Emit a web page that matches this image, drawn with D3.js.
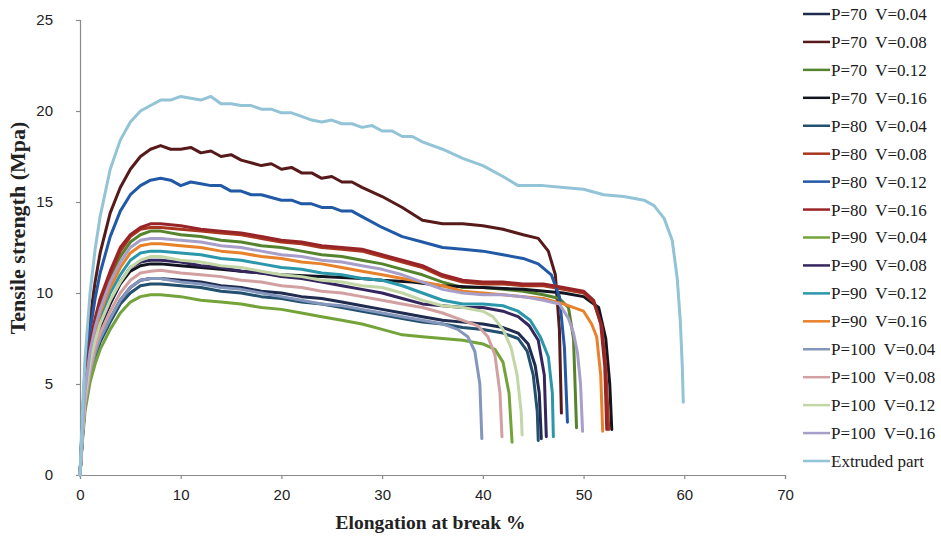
<!DOCTYPE html>
<html><head><meta charset="utf-8">
<script src="https://cdn.jsdelivr.net/npm/d3@7"></script>
<style>
html,body{margin:0;padding:0;background:#fff;}
svg{display:block;}
</style></head>
<body>
<svg id="chart" width="941" height="537"></svg>
<script>
// ---------------- data ----------------
const xTicks = [0,10,20,30,40,50,60,70];
const yTicks = [0,5,10,15,20,25];
const seriesNames = ["P=70  V=0.04","P=70  V=0.08","P=70  V=0.12","P=70  V=0.16",
  "P=80  V=0.04","P=80  V=0.08","P=80  V=0.12","P=80  V=0.16",
  "P=90  V=0.04","P=90  V=0.08","P=90  V=0.12","P=90  V=0.16",
  "P=100  V=0.04","P=100  V=0.08","P=100  V=0.12","P=100  V=0.16","Extruded part"];

const p70v004 = [[0,0],[0.25,2.2],[0.5,3.9],[1,5.6],[1.5,6.7],[2,7.5],[3,8.6],[4,9.6],[5,10.3],[6,10.7],[7,10.8],[8,10.8],[10,10.7],[12,10.6],[14,10.4],[16,10.3],[18,10.1],[20,10.0],[22,9.8],[24,9.7],[26,9.5],[28,9.3],[30,9.1],[32,8.9],[34,8.7],[36,8.5],[38,8.4],[40,8.3],[42,8.1],[43.5,7.8],[44.5,7.2],[45.2,6.0],[45.6,4.5],[45.8,2.0]];
const p70v008 = [[0,0],[0.25,3.2],[0.5,5.8],[1,8.6],[1.5,10.6],[2,12.2],[3,14.4],[4,15.8],[5,16.8],[6,17.5],[7,17.9],[8,18.1],[9,17.9],[10,17.9],[11,18.0],[12,17.7],[13,17.8],[14,17.5],[15,17.6],[16,17.3],[18,17.0],[19,17.1],[20,16.8],[21,16.9],[22,16.6],[23,16.6],[24,16.3],[25,16.4],[26,16.1],[27,16.1],[28,15.8],[30,15.3],[32,14.7],[34,14.0],[36,13.8],[38,13.8],[40,13.7],[42,13.5],[44,13.2],[45.5,13.0],[46.5,12.3],[47.2,11],[47.6,8],[47.8,3.4]];
const p70v012 = [[0,0],[0.25,2.6],[0.5,4.7],[1,7.0],[1.5,8.4],[2,9.4],[3,10.9],[4,12.0],[5,12.8],[6,13.2],[7,13.4],[8,13.4],[10,13.2],[12,13.1],[14,12.9],[16,12.8],[18,12.6],[20,12.5],[22,12.3],[24,12.1],[26,12.0],[28,11.8],[30,11.6],[32,11.3],[34,11.0],[36,10.6],[38,10.3],[40,10.3],[42,10.2],[44,10.1],[46,9.9],[47.6,9.7],[48.5,9.2],[49,7.5],[49.3,2.6]];
const p70v016 = [[0,0],[0.25,2.3],[0.5,4.2],[1,6.0],[1.5,7.2],[2,8.1],[3,9.4],[4,10.5],[5,11.2],[6,11.5],[7,11.6],[8,11.6],[10,11.5],[12,11.4],[14,11.3],[16,11.2],[18,11.1],[20,11.0],[24,10.9],[28,10.8],[30,10.7],[33,10.6],[36,10.4],[40,10.3],[44,10.2],[48,10.0],[50,9.8],[51.5,9.2],[52.2,7.5],[52.6,5],[52.8,2.5]];
const p80v004 = [[0,0],[0.25,2.1],[0.5,3.8],[1,5.5],[1.5,6.5],[2,7.3],[3,8.4],[4,9.4],[5,10.0],[6,10.4],[7,10.5],[8,10.5],[10,10.4],[12,10.3],[14,10.1],[16,10.0],[18,9.8],[20,9.7],[22,9.5],[24,9.4],[26,9.2],[28,9.0],[30,8.8],[32,8.6],[34,8.4],[36,8.3],[38,8.1],[40,8.0],[42,7.8],[43.5,7.5],[44.4,6.8],[45,5.5],[45.4,3.5],[45.5,1.9]];
const p80v008 = [[0,0],[0.25,2.6],[0.5,4.8],[1,7.1],[1.5,8.5],[2,9.5],[3,11.0],[4,12.3],[5,13.1],[6,13.5],[7,13.6],[8,13.6],[10,13.5],[12,13.4],[14,13.3],[16,13.2],[18,13.0],[20,12.8],[22,12.7],[24,12.5],[26,12.4],[28,12.3],[30,12.0],[32,11.7],[34,11.4],[36,10.9],[38,10.6],[40,10.5],[42,10.5],[44,10.4],[46,10.4],[48,10.2],[50,10.0],[51,9.5],[51.8,8.2],[52.2,6],[52.5,2.5]];
const p80v012 = [[0,0],[0.25,3.0],[0.5,5.3],[1,7.9],[1.5,9.7],[2,11.1],[3,13.1],[4,14.5],[5,15.4],[6,15.9],[7,16.2],[8,16.3],[9,16.2],[10,15.9],[11,16.1],[12,16.0],[13,15.9],[14,15.9],[15,15.6],[16,15.6],[17,15.4],[18,15.4],[20,15.1],[21,15.1],[22,14.9],[23,14.9],[24,14.7],[25,14.7],[26,14.5],[27,14.5],[28,14.2],[30,13.6],[32,13.1],[34,12.8],[36,12.5],[38,12.4],[40,12.3],[42,12.1],[44,11.9],[45.5,11.6],[46.8,11],[47.6,9.8],[48.1,7],[48.4,2.9]];
const p80v016 = [[0,0],[0.25,2.7],[0.5,4.9],[1,7.2],[1.5,8.6],[2,9.7],[3,11.2],[4,12.5],[5,13.2],[6,13.6],[7,13.8],[8,13.8],[10,13.7],[12,13.5],[14,13.4],[16,13.3],[18,13.1],[20,12.9],[22,12.8],[24,12.6],[26,12.5],[28,12.4],[30,12.1],[32,11.8],[34,11.5],[36,11.0],[38,10.7],[40,10.6],[42,10.6],[44,10.5],[46,10.5],[48,10.3],[50,10.1],[51,9.6],[51.7,8.3],[52.1,6],[52.3,2.5]];
const p90v004 = [[0,0],[0.25,1.9],[0.5,3.5],[1,5.1],[1.5,6.1],[2,6.9],[3,8.0],[4,8.9],[5,9.5],[6,9.8],[7,9.9],[8,9.9],[10,9.8],[12,9.6],[14,9.5],[16,9.4],[18,9.2],[20,9.1],[22,8.9],[24,8.7],[26,8.5],[28,8.3],[30,8.0],[32,7.7],[34,7.6],[36,7.5],[38,7.4],[40,7.2],[41.2,6.9],[42,6.2],[42.6,4.5],[42.9,1.8]];
const p90v008 = [[0,0],[0.25,2.3],[0.5,4.2],[1,6.1],[1.5,7.3],[2,8.2],[3,9.5],[4,10.6],[5,11.4],[6,11.7],[7,11.8],[8,11.8],[10,11.7],[12,11.5],[14,11.4],[16,11.2],[18,11.1],[20,10.9],[22,10.8],[24,10.6],[26,10.4],[28,10.2],[30,10.0],[32,9.7],[34,9.4],[36,9.3],[38,9.2],[40,9.2],[42,9.0],[43.5,8.7],[44.6,8.2],[45.5,7.4],[46.1,5.5],[46.3,2.1]];
const p90v012 = [[0,0],[0.25,2.4],[0.5,4.4],[1,6.4],[1.5,7.6],[2,8.6],[3,10.0],[4,11.0],[5,11.8],[6,12.2],[7,12.3],[8,12.3],[10,12.2],[12,12.1],[14,11.9],[16,11.8],[18,11.6],[20,11.4],[22,11.3],[24,11.1],[26,11.0],[28,10.8],[30,10.7],[32,10.4],[34,10.0],[36,9.6],[38,9.4],[40,9.4],[42,9.3],[43.5,9.0],[44.7,8.5],[45.7,7.6],[46.5,6.5],[46.9,4.5],[47.0,2.1]];
const p90v016 = [[0,0],[0.25,2.5],[0.5,4.5],[1,6.6],[1.5,7.9],[2,8.9],[3,10.3],[4,11.4],[5,12.2],[6,12.6],[7,12.7],[8,12.7],[10,12.6],[12,12.5],[14,12.3],[16,12.2],[18,12.0],[20,11.9],[22,11.7],[24,11.6],[26,11.4],[28,11.2],[30,11.0],[32,10.8],[34,10.6],[36,10.4],[38,10.1],[40,10.0],[42,9.9],[44,9.8],[46,9.7],[48,9.4],[50,9.0],[50.8,8.3],[51.3,7.6],[51.7,5.5],[51.9,2.4]];
const p100v004 = [[0,0],[0.25,2.2],[0.5,3.9],[1,5.6],[1.5,6.7],[2,7.5],[3,8.6],[4,9.6],[5,10.3],[6,10.7],[7,10.8],[8,10.8],[10,10.6],[12,10.5],[14,10.3],[16,10.2],[18,10.0],[20,9.8],[22,9.6],[24,9.4],[26,9.3],[28,9.1],[30,8.9],[32,8.7],[34,8.5],[36,8.3],[37.5,8.0],[38.5,7.6],[39.2,6.8],[39.7,5.0],[39.9,2.0]];
const p100v008 = [[0,0],[0.25,2.2],[0.5,4.0],[1,5.8],[1.5,7.0],[2,7.8],[3,9.0],[4,10.0],[5,10.7],[6,11.1],[7,11.2],[8,11.25],[10,11.1],[12,11.0],[14,10.9],[16,10.7],[18,10.6],[20,10.4],[22,10.3],[24,10.1],[26,10.0],[28,9.8],[30,9.6],[32,9.4],[34,9.2],[36,8.9],[38,8.5],[39.5,8.2],[40.5,7.6],[41.2,6.6],[41.7,4.5],[41.9,2.1]];
const p100v012 = [[0,0],[0.25,2.4],[0.5,4.3],[1,6.2],[1.5,7.4],[2,8.3],[3,9.6],[4,10.6],[5,11.4],[6,11.8],[7,12.0],[8,12.0],[10,11.8],[12,11.7],[14,11.5],[16,11.4],[18,11.2],[20,11.0],[22,10.9],[24,10.7],[26,10.6],[28,10.4],[30,10.3],[32,10.0],[34,9.6],[36,9.3],[38,9.2],[40,9.0],[41,8.7],[42,8.0],[42.8,7.0],[43.4,5.5],[43.8,3.5],[43.9,2.2]];
const p100v016 = [[0,0],[0.25,2.5],[0.5,4.6],[1,6.8],[1.5,8.1],[2,9.1],[3,10.6],[4,11.7],[5,12.5],[6,12.9],[7,13.0],[8,13.0],[10,12.9],[12,12.8],[14,12.6],[16,12.5],[18,12.3],[20,12.1],[22,12.0],[24,11.8],[26,11.7],[28,11.5],[30,11.3],[32,11.0],[34,10.6],[36,10.2],[38,10.0],[40,9.9],[42,9.9],[44,9.8],[46,9.6],[47.6,9.4],[48.5,8.6],[49,7.8],[49.4,6.7],[49.7,5],[49.9,2.4]];
const extruded = [[0,0],[0.25,3.6],[0.5,6.4],[1,10.0],[1.5,12.4],[2,14.2],[3,16.8],[4,18.4],[5,19.4],[6,20.0],[7,20.3],[8,20.6],[9,20.6],[10,20.8],[11,20.7],[12,20.6],[13,20.8],[14,20.4],[15,20.4],[16,20.3],[17,20.3],[18,20.1],[19,20.1],[20,19.9],[21,19.9],[22,19.7],[23,19.5],[24,19.4],[25,19.5],[26,19.3],[27,19.3],[28,19.1],[29,19.2],[30,18.9],[31,18.9],[32,18.6],[33,18.6],[34,18.3],[36,17.9],[38,17.4],[40,17.0],[42,16.4],[43.5,15.9],[46,15.9],[48,15.8],[50,15.7],[52,15.4],[54,15.3],[56,15.1],[57,14.8],[58,14.1],[58.8,12.9],[59.3,10.8],[59.6,8.5],[59.8,6],[59.9,4]];

const seriesData = [p70v004,p70v008,p70v012,p70v016,p80v004,p80v008,p80v012,p80v016,
  p90v004,p90v008,p90v012,p90v016,p100v004,p100v008,p100v012,p100v016,extruded];

// ---------------- styles ----------------
const colors = ["#1f2b4f","#571a1a","#55832e","#12141f","#23506e","#a8361f","#2159a6","#992428",
  "#74a33a","#35265e","#2a97ab","#e8822a","#8596bd","#d2a0a0","#c3d6a6","#a79fc9","#93c3d6"];

const svg = d3.select("#chart");
const W = 941, H = 537;
const m = {left:80, right:156, top:20, bottom:62};
const x = d3.scaleLinear().domain([0,70]).range([m.left, W - m.right]);
const y = d3.scaleLinear().domain([0,25]).range([H - m.bottom, m.top]);

// axes
const xAxis = d3.axisBottom(x).tickValues(xTicks).tickSize(4).tickPadding(10).tickFormat(d3.format("d"));
const yAxis = d3.axisLeft(y).tickValues(yTicks).tickSize(4).tickPadding(23).tickFormat(d3.format("d"));

const gx = svg.append("g").attr("transform", `translate(0,${y(0)})`).call(xAxis);
const gy = svg.append("g").attr("transform", `translate(${x(0)},0)`).call(yAxis);
[gx, gy].forEach(g => {
  g.select(".domain").attr("stroke", "#8a8a8a").attr("stroke-width", 1.2);
  g.selectAll(".tick line").attr("stroke", "#8a8a8a").attr("stroke-width", 1.2);
  g.selectAll(".tick text").attr("fill", "#222").style("font-family", "'Liberation Sans', Arial, sans-serif").style("font-size", "15px");
});

// curves
const line = d3.line().x(d => x(d[0])).y(d => y(d[1]));
const gLines = svg.append("g");
seriesData.forEach((s, i) => {
  gLines.append("path").datum(s)
    .attr("d", line)
    .attr("fill", "none")
    .attr("stroke", colors[i])
    .attr("stroke-width", 3)
    .attr("stroke-linejoin", "round")
    .attr("stroke-linecap", "round");
});

// axis titles
svg.append("text")
  .attr("x", (x(0) + x(70)) / 2 - 2).attr("y", 529)
  .attr("text-anchor", "middle")
  .style("font-family", "'Liberation Serif', 'Times New Roman', serif")
  .style("font-weight", "bold").style("font-size", "19.5px").attr("fill", "#222")
  .text("Elongation at break %");
svg.append("text")
  .attr("transform", `translate(25,${228}) rotate(-90)`)
  .attr("text-anchor", "middle")
  .style("font-family", "'Liberation Serif', 'Times New Roman', serif")
  .style("font-weight", "bold").style("font-size", "22px").attr("fill", "#222")
  .text("Tensile strength (Mpa)");

// legend
const lg = svg.append("g");
const ly = d3.scaleLinear().domain([0, seriesNames.length - 1]).range([14, 461]);
seriesNames.forEach((name, i) => {
  lg.append("line")
    .attr("x1", 803).attr("x2", 830)
    .attr("y1", ly(i)).attr("y2", ly(i))
    .attr("stroke", colors[i]).attr("stroke-width", 2.5);
  lg.append("text")
    .attr("x", 831).attr("y", ly(i)).attr("dy", "0.35em")
    .attr("xml:space", "preserve")
    .style("white-space", "pre")
    .style("font-family", "'Liberation Serif', 'Times New Roman', serif")
    .style("font-size", "17px").attr("fill", "#1a1a1a")
    .text(name);
});
</script>
</body></html>
